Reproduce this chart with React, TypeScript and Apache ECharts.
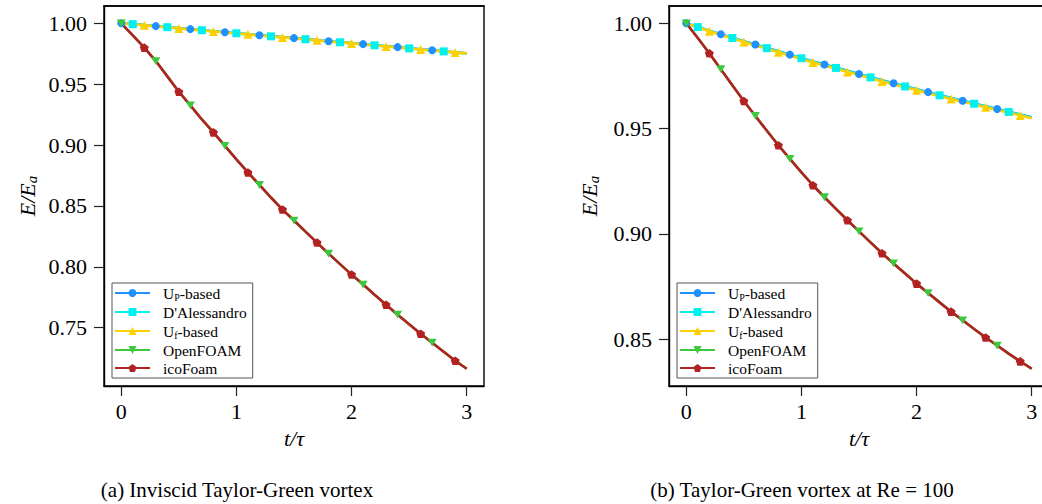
import { useEffect, useRef } from "react";
import * as echarts from "echarts";

// time samples t/τ
const tValues = [0, 0.1, 0.2, 0.3, 0.4, 0.5, 0.6, 0.7, 0.8, 0.9, 1.0, 1.1, 1.2, 1.3, 1.4, 1.5, 1.6, 1.7, 1.8, 1.9, 2.0, 2.1, 2.2, 2.3, 2.4, 2.5, 2.6, 2.7, 2.8, 2.9, 3.0];

// (a) Inviscid Taylor-Green vortex
const leftUp = [1.0, 0.9993, 0.9985, 0.9977, 0.9968, 0.996, 0.9952, 0.9943, 0.9935, 0.9927, 0.9919, 0.991, 0.9902, 0.9894, 0.9886, 0.9878, 0.987, 0.9862, 0.9853, 0.9845, 0.9837, 0.9829, 0.982, 0.9812, 0.9804, 0.9795, 0.9787, 0.9779, 0.977, 0.9762, 0.9754];
const leftDA = [1.0, 0.9993, 0.9985, 0.9976, 0.9968, 0.9959, 0.9951, 0.9943, 0.9934, 0.9926, 0.9918, 0.9909, 0.9901, 0.9893, 0.9885, 0.9877, 0.9869, 0.986, 0.9852, 0.9844, 0.9836, 0.9827, 0.9819, 0.9811, 0.9802, 0.9794, 0.9786, 0.9777, 0.9769, 0.976, 0.9752];
const leftUf = [1.0, 0.9992, 0.9984, 0.9975, 0.9967, 0.9958, 0.995, 0.9942, 0.9933, 0.9925, 0.9917, 0.9909, 0.99, 0.9892, 0.9884, 0.9876, 0.9868, 0.986, 0.9851, 0.9843, 0.9835, 0.9827, 0.9818, 0.981, 0.9802, 0.9793, 0.9785, 0.9777, 0.9769, 0.9761, 0.9753];
const leftOF = [1.0, 0.9901, 0.98, 0.969, 0.9564, 0.9438, 0.9326, 0.921, 0.9104, 0.8993, 0.8882, 0.8775, 0.8672, 0.8569, 0.847, 0.838, 0.8289, 0.8199, 0.8108, 0.8022, 0.7936, 0.7854, 0.7771, 0.7689, 0.7607, 0.7529, 0.745, 0.7377, 0.7302, 0.7228, 0.7163];
const leftIco = [1.0, 0.9901, 0.98, 0.969, 0.9564, 0.9438, 0.9326, 0.921, 0.9104, 0.8993, 0.8882, 0.8775, 0.8672, 0.8569, 0.847, 0.838, 0.8289, 0.8199, 0.8108, 0.8022, 0.7936, 0.7854, 0.7771, 0.7689, 0.7607, 0.7529, 0.745, 0.7377, 0.7302, 0.7228, 0.7163];

// (b) Taylor-Green vortex at Re = 100
const rightUp = [1.0, 0.9982, 0.9964, 0.9948, 0.9931, 0.9915, 0.9899, 0.9883, 0.9867, 0.9851, 0.9835, 0.9819, 0.9804, 0.9789, 0.9774, 0.9759, 0.9744, 0.9729, 0.9715, 0.9701, 0.9687, 0.9673, 0.9659, 0.9645, 0.9632, 0.9619, 0.9606, 0.9593, 0.958, 0.9567, 0.9554];
const rightDA = [1.0, 0.9982, 0.9964, 0.9947, 0.993, 0.9914, 0.9898, 0.9882, 0.9866, 0.985, 0.9834, 0.9818, 0.9803, 0.9788, 0.9773, 0.9758, 0.9743, 0.9728, 0.9714, 0.97, 0.9686, 0.9672, 0.9658, 0.9644, 0.9631, 0.9618, 0.9605, 0.9592, 0.9579, 0.9566, 0.9553];
const rightUf = [1.0, 0.9981, 0.9962, 0.9945, 0.9928, 0.9911, 0.9895, 0.9879, 0.9863, 0.9847, 0.983, 0.9814, 0.9799, 0.9784, 0.9769, 0.9754, 0.9739, 0.9724, 0.971, 0.9696, 0.9682, 0.9668, 0.9654, 0.964, 0.9627, 0.9614, 0.9601, 0.9588, 0.9575, 0.9562, 0.9549];
const rightOF = [1.0, 0.993, 0.9858, 0.9782, 0.9706, 0.9631, 0.956, 0.949, 0.9421, 0.9356, 0.9292, 0.9231, 0.9174, 0.9119, 0.9065, 0.9012, 0.896, 0.8908, 0.886, 0.8812, 0.8764, 0.8719, 0.8675, 0.8631, 0.859, 0.8549, 0.8508, 0.847, 0.8432, 0.8395, 0.836];
const rightIco = [1.0, 0.993, 0.9858, 0.9782, 0.9706, 0.9631, 0.956, 0.949, 0.9421, 0.9356, 0.9292, 0.9231, 0.9174, 0.9119, 0.9065, 0.9012, 0.896, 0.8908, 0.886, 0.8812, 0.8764, 0.8719, 0.8675, 0.8631, 0.859, 0.8549, 0.8508, 0.847, 0.8432, 0.8395, 0.836];

const seriesNames = ["UP-based", "D'Alessandro", "Uf-based", "OpenFOAM", "icoFoam"];
const xTicks = [0, 1, 2, 3];
const leftYTicks = [0.75, 0.8, 0.85, 0.9, 0.95, 1.0];
const rightYTicks = [0.85, 0.9, 0.95, 1.0];
const captions = ["(a) Inviscid Taylor-Green vortex", "(b) Taylor-Green vortex at Re = 100"];

const SERIF = "'Liberation Serif', 'Times New Roman', Times, serif";
const PENTAGON = "path://M5,0 L9.755,3.455 L7.939,9.045 L2.061,9.045 L0.245,3.455 Z";
const DOWN_TRI = "path://M0,0 L10,0 L5,8.66 Z";

const styles = [
  { color: "#1E90FF", symbol: "circle", offset: 0, size: 8 },
  { color: "#00F0F0", symbol: "rect", offset: 1, size: 8 },
  { color: "#FFD000", symbol: "triangle", offset: 2, size: 9 },
  { color: "#3CC83C", symbol: DOWN_TRI, offset: 0, size: 9 },
  { color: "#B22222", symbol: PENTAGON, offset: 2, size: 9 },
];

const tickRich = { v: { fontFamily: SERIF, fontSize: 22, color: "#000", fontWeight: "normal" } };

function makeSeries(gridIdx: number, datasets: number[][]) {
  return datasets.map((vals, k) => {
    const st = styles[k];
    return {
      type: "line",
      name: seriesNames[k],
      xAxisIndex: gridIdx,
      yAxisIndex: gridIdx,
      data: tValues.map((t, i) => [t, vals[i]]),
      showSymbol: true,
      showAllSymbol: true,
      symbol: st.symbol,
      symbolKeepAspect: true,
      symbolSize: (_v: any, p: any) =>
        p.dataIndex % 3 === st.offset && p.dataIndex < 30 ? st.size : 0,
      lineStyle: { color: st.color, width: 2.6 },
      itemStyle: { color: st.color, borderWidth: 0 },
      emphasis: { disabled: true },
      clip: true,
    };
  });
}

function legendFmt(name: string) {
  if (name === "UP-based") return "{n|U}{s|P}{n|-based}";
  if (name === "Uf-based") return "{n|U}{s|f}{n|-based}";
  return "{n|" + name + "}";
}

function makeLegend(left: number) {
  return {
    show: true,
    orient: "vertical",
    left,
    top: 283,
    data: seriesNames,
    selectedMode: false,
    itemWidth: 35,
    itemHeight: 10,
    itemGap: 2,
    padding: [1, 6, 2, 2],
    borderColor: "#555",
    borderWidth: 1,
    backgroundColor: "rgba(255,255,255,0.85)",
    formatter: legendFmt,
    textStyle: {
      fontFamily: SERIF,
      padding: [0, 0, 0, 8],
      rich: {
        n: { fontFamily: SERIF, fontSize: 15.5, color: "#000", lineHeight: 18 },
        s: { fontFamily: SERIF, fontSize: 10, color: "#000", lineHeight: 10, padding: [8, 0, 0, 0] },
      },
    },
  };
}

function makeX(gridIndex: number) {
  return {
    type: "value",
    gridIndex,
    min: -0.15,
    max: 3.15,
    name: "t/τ",
    nameLocation: "middle",
    nameGap: 41,
    nameTextStyle: { fontFamily: SERIF, fontSize: 22, fontStyle: "italic", color: "#000" },
    axisLine: { show: true, onZero: false, lineStyle: { color: "#000", width: 1.4 } },
    axisTick: { show: true, length: 10, customValues: xTicks, lineStyle: { color: "#222", width: 1.2 } },
    axisLabel: {
      customValues: xTicks,
      margin: 14,
      fontFamily: SERIF,
      fontSize: 22,
      fontWeight: "normal",
      color: "#000",
      formatter: (v: number) => "{v|" + String(v) + "}",
      rich: tickRich,
    },
    splitLine: { show: false },
  };
}

function makeTopX(gridIndex: number) {
  return {
    type: "value",
    gridIndex,
    position: "top",
    min: -0.15,
    max: 3.15,
    axisLine: { show: true, onZero: false, lineStyle: { color: "#000", width: 1.6 } },
    axisTick: { show: false },
    axisLabel: { show: false },
    splitLine: { show: false },
  };
}

function makeY(gridIndex: number, min: number, max: number, ticks: number[], gap: number) {
  return {
    type: "value",
    gridIndex,
    min,
    max,
    name: "{i|E/E}{s|a}",
    nameLocation: "middle",
    nameGap: gap,
    nameTextStyle: {
      fontFamily: SERIF,
      rich: {
        i: { fontFamily: SERIF, fontSize: 22, fontStyle: "italic", color: "#000", lineHeight: 26 },
        s: { fontFamily: SERIF, fontSize: 15, fontStyle: "italic", color: "#000", lineHeight: 15, padding: [9, 0, 0, 0] },
      },
    },
    axisLine: { show: true, onZero: false, lineStyle: { color: "#000", width: 1.4 } },
    axisTick: { show: true, length: 10, customValues: ticks, lineStyle: { color: "#222", width: 1.2 } },
    axisLabel: {
      customValues: ticks,
      margin: 17,
      fontFamily: SERIF,
      fontSize: 22,
      fontWeight: "normal",
      color: "#000",
      formatter: (v: number) => "{v|" + v.toFixed(2) + "}",
      rich: tickRich,
    },
    splitLine: { show: false },
  };
}

export default function App() {
  const ref = useRef<HTMLDivElement>(null);
  useEffect(() => {
    if (!ref.current) return;
    const chart = echarts.init(ref.current, undefined, { renderer: "svg" });
    chart.setOption({
      animation: false,
      backgroundColor: "#fff",
      textStyle: { fontFamily: SERIF, color: "#000" },
      grid: [
        { left: 104, top: 6, width: 380, height: 380, show: true, borderColor: "#000", borderWidth: 1.4, backgroundColor: "transparent", outerBoundsMode: "none", containLabel: false },
        { left: 669, top: 6, width: 380, height: 380, show: true, borderColor: "#000", borderWidth: 1.4, backgroundColor: "transparent", outerBoundsMode: "none", containLabel: false },
      ],
      xAxis: [makeX(0), makeX(1), makeTopX(0), makeTopX(1)],
      yAxis: [
        makeY(0, 0.7021, 1.0142, leftYTicks, 64),
        makeY(1, 0.8278, 1.0082, rightYTicks, 67),
      ],
      legend: [makeLegend(112), makeLegend(677)],
      series: [
        ...makeSeries(0, [leftUp, leftDA, leftUf, leftOF, leftIco]),
        ...makeSeries(1, [rightUp, rightDA, rightUf, rightOF, rightIco]),
      ],
      graphic: [
        {
          type: "text",
          x: 237,
          y: 490,
          style: { text: captions[0], fontFamily: SERIF, fontSize: 21, fill: "#000", align: "center", verticalAlign: "middle", textAlign: "center", textVerticalAlign: "middle" },
        },
        {
          type: "text",
          x: 802,
          y: 490,
          style: { text: captions[1], fontFamily: SERIF, fontSize: 21, fill: "#000", align: "center", verticalAlign: "middle", textAlign: "center", textVerticalAlign: "middle" },
        },
      ],
    });
    return () => chart.dispose();
  }, []);
  return <div ref={ref} style={{ position: "absolute", left: 0, top: 0, width: 1042, height: 504 }} />;
}
